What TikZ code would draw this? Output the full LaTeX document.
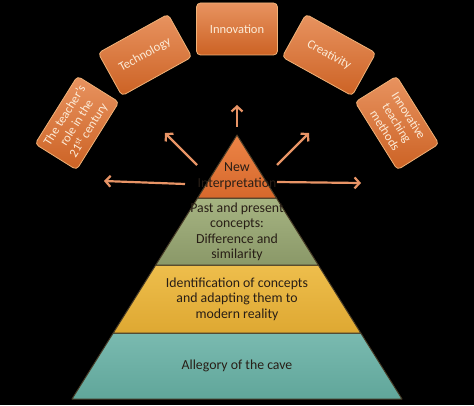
\documentclass[tikz,border=0pt]{standalone}
\usepackage{fontspec}
\setmainfont{Carlito}
\usetikzlibrary{arrows.meta}
\usetikzlibrary{positioning}
\definecolor{boxorange}{RGB}{226,120,56}
\definecolor{boxorangedark}{RGB}{204,98,36}
\definecolor{boxedge}{RGB}{240,178,120}
\definecolor{boxtext}{RGB}{252,236,216}
\definecolor{peach}{RGB}{232,148,102}
\definecolor{darktext}{RGB}{40,30,22}
\definecolor{seam}{RGB}{70,58,38}
\definecolor{topor}{RGB}{236,132,70}
\definecolor{topordark}{RGB}{214,104,44}
\definecolor{olive}{RGB}{166,180,130}
\definecolor{olivedark}{RGB}{138,152,104}
\definecolor{mustard}{RGB}{238,190,76}
\definecolor{mustarddark}{RGB}{222,168,50}
\definecolor{teal}{RGB}{122,186,176}
\definecolor{tealdark}{RGB}{96,166,154}
\tikzset{topicbox/.style = {rounded corners=4pt, minimum width=80, minimum height=49,
                            inner sep=2pt, align=center, text=boxtext,
                            font=\fontsize{12.5}{14}\selectfont,
                            top color=boxorange!80!white, bottom color=boxorangedark,
                            draw=boxedge, line width=0.8pt}}
\tikzset{layer/.style = {draw=seam, line width=1pt, line join=round}}
\tikzset{layertext/.style = {align=center, text=darktext,
                             font=\fontsize{13.8}{15.5}\selectfont}}
\tikzset{outarrow/.style = {draw=peach, line width=2.2pt,
                            -{Straight Barb[length=5pt,width=11pt]}}}

\begin{document}
\begin{tikzpicture}[x=1pt, y=1pt]
      \fill [black] (0, 0) rectangle (474, 405);
      \useasboundingbox (0, 0) rectangle (474, 405);
      % pyramid
      \draw [layer, top color=teal, bottom color=tealdark] (72, 6) -- (402, 6) -- (360.75, 72) -- (113.25, 72) -- cycle;
      \draw [layer, top color=mustard, bottom color=mustarddark] (113.25, 72) -- (360.75, 72) -- (318.25, 140) -- (155.75, 140) -- cycle;
      \draw [layer, top color=olive, bottom color=olivedark] (155.75, 140) -- (318.25, 140) -- (276.4, 207) -- (197.6, 207) -- cycle;
      \draw [layer, top color=topor, bottom color=topordark] (197.6, 207) -- (276.4, 207) -- (237, 270) -- cycle;
      \node [layertext] (newint) at (237, 229) {New\\Interpretation};
      \node [layertext] (past) at (237, 173) {Past and present\\concepts:\\Difference and\\similarity};
      \node [layertext] (ident) at (237, 106) {Identification of concepts\\and adapting them to\\modern reality};
      \node [layertext] (cave) at (237, 39) {Allegory of the cave};
      % boxes
      \node [topicbox, minimum width=81, minimum height=52] (innov) at (237, 376) {Innovation};
      \node [topicbox, rotate=29] (tech) at (145, 350) {Technology};
      \node [topicbox, rotate=-29] (creat) at (329, 350) {Creativity};
      \node [topicbox, rotate=58] (teacher) at (77, 282) {The teacher's\\role in the\\21\textsuperscript{st} century};
      \node [topicbox, rotate=-58] (methods) at (397, 282) {Innovative\\teaching\\methods};
      % arrows
      \coordinate (upS) at (237, 278);
      \coordinate (upE) at (237, 300);
      \coordinate (ulS) at (197, 240);
      \coordinate (ulE) at (165, 272);
      \coordinate (urS) at (277, 240);
      \coordinate (urE) at (309, 272);
      \coordinate (lS) at (185, 221);
      \coordinate (lE) at (104, 224);
      \coordinate (rS) at (277, 223);
      \coordinate (rE) at (361, 222);
      \draw [outarrow] (upS) -- (upE);
      \draw [outarrow] (ulS) -- (ulE);
      \draw [outarrow] (urS) -- (urE);
      \draw [outarrow] (lS) -- (lE);
      \draw [outarrow] (rS) -- (rE);
    \end{tikzpicture}
\end{document}
